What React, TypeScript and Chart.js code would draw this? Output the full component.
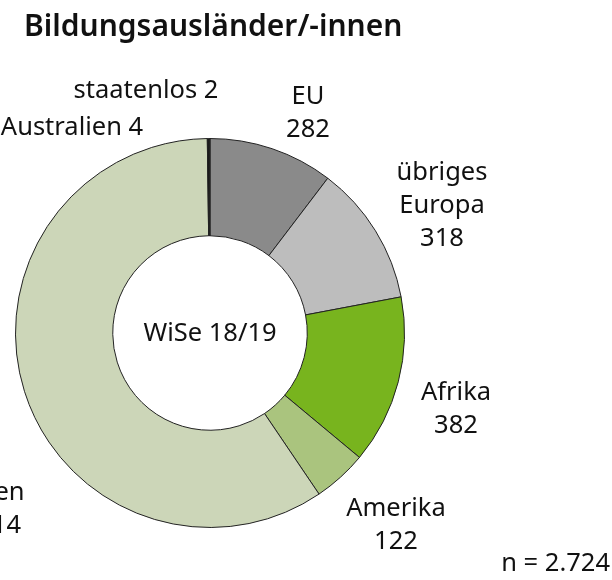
import React, { useEffect, useRef } from "react";
import { Chart, registerables } from "chart.js";

Chart.register(...registerables);

const categories = ["EU", "übriges Europa", "Afrika", "Amerika", "Asien", "Australien", "staatenlos"];
const values = [282, 318, 382, 122, 1614, 4, 2];
const labelLines = [
  ["EU", "282"],
  ["übriges", "Europa", "318"],
  ["Afrika", "382"],
  ["Amerika", "122"],
  ["Asien", "1614"],
  ["Australien 4"],
  ["staatenlos 2"],
];
const titleText = "Bildungsausländer/-innen";
const centerText = "WiSe 18/19";
const totalText = "n = 2.724";

const colors = ["#8a8a8a", "#bdbdbd", "#78b41e", "#aac47e", "#ccd6b8", "#111111", "#111111"];
// label anchor offsets relative to the doughnut centre (first line)
const labelOffsets = [
  [98, -237],
  [232, -161],
  [246, 59],
  [186, 175],
  [-218, 159],
  [-138, -206],
  [-64, -243],
];
const LINE_H = 33;
const FONT = "'Noto Sans', 'Open Sans', sans-serif";

const textPlugin = {
  id: "texts",
  afterDraw(chart: any) {
    const ctx = chart.ctx;
    const arc = chart.getDatasetMeta(0).data[0];
    const cx = arc.x;
    const cy = arc.y;
    ctx.save();
    ctx.fillStyle = "#111";
    ctx.textBaseline = "middle";
    // title
    ctx.textAlign = "left";
    ctx.font = `600 30px ${FONT}`;
    ctx.fillText(titleText, 24, 27);
    // labels
    ctx.font = `25.5px ${FONT}`;
    ctx.textAlign = "center";
    labelLines.forEach((lines, i) => {
      const [dx, dy] = labelOffsets[i];
      lines.forEach((ln, j) => ctx.fillText(ln, cx + dx, cy + dy + 1 + j * LINE_H));
    });
    ctx.fillText(centerText, cx, cy + 1);
    ctx.textAlign = "right";
    ctx.fillText(totalText, 610, 564);
    ctx.restore();
  },
};

export default function App() {
  const ref = useRef<HTMLCanvasElement>(null);
  useEffect(() => {
    const chart = new Chart(ref.current!, {
      type: "doughnut",
      data: {
        labels: categories,
        datasets: [
          {
            data: values,
            backgroundColor: colors,
            borderColor: "#222",
            borderWidth: 1,
            hoverOffset: 0,
          },
        ],
      },
      options: {
        animation: false,
        responsive: false,
        cutout: "50%",
        layout: { padding: { left: 15, right: 207, top: 138, bottom: 52 } },
        plugins: { legend: { display: false }, tooltip: { enabled: false }, title: { display: false } },
      },
      plugins: [textPlugin],
    });
    return () => chart.destroy();
  }, []);
  return (
    <div style={{ position: "fixed", left: 0, top: 0, width: 612, height: 580, background: "#fff" }}>
      <canvas ref={ref} width={612} height={580} />
    </div>
  );
}
